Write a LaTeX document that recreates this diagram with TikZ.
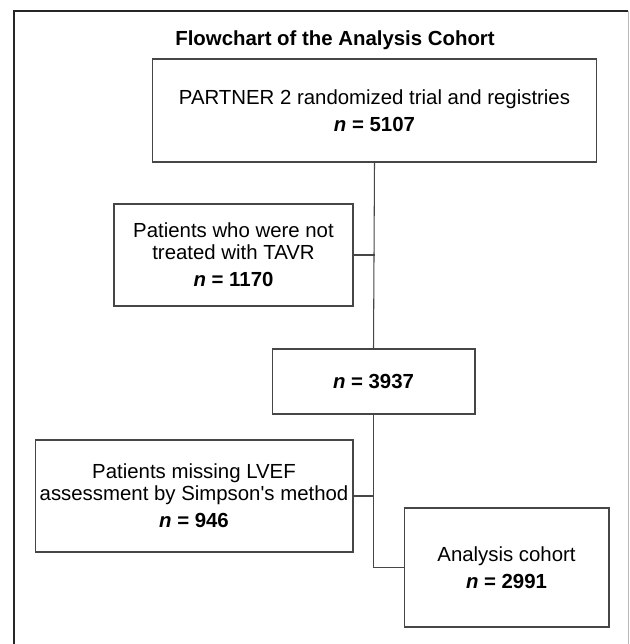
\documentclass[tikz,border=0pt]{standalone}
\usepackage{fontspec}
\setmainfont{Liberation Sans}
\usepackage{tikz}
\usetikzlibrary{positioning, calc}
\definecolor{boxline}{RGB}{70,70,70}
\definecolor{framegray}{RGB}{185,185,185}

\newcommand{\nval}[1]{\textbf{\textit{n} = #1}}

\begin{document}
\begin{tikzpicture}[
    x=0.02cm, y=-0.02cm,
    stage/.style={rectangle, draw=boxline, line width=0.6pt, align=center, inner sep=2pt, font=\fontsize{11.6}{12.5}\selectfont},
    link/.style={draw=boxline, line width=0.6pt},
    headline/.style={font=\fontsize{11.6}{12.5}\selectfont\bfseries},
]
\useasboundingbox (0,0) rectangle (629,644);
% outer frame (no bottom edge)
\draw[line width=1.2pt, black!85] (14,644) -- (14,11) -- (628,11);
\draw[line width=0.5pt, framegray] (628,11) -- (628,644);

\node[headline] (title) at (335,40) {Flowchart of the Analysis Cohort};

\node[stage, minimum width=8.9cm, minimum height=2.06cm] (trial) at (374.5,110.5)
    {PARTNER 2 randomized trial and registries\\[3pt] \nval{5107}};
\node[stage, minimum width=4.78cm, minimum height=2.04cm] (notavr) at (233.5,255)
    {Patients who were not\\ treated with TAVR\\[3pt] \nval{1170}};
\node[stage, minimum width=4.06cm, minimum height=1.3cm] (treated) at (373.5,381.5)
    {\nval{3937}};
\node[stage, minimum width=6.36cm, minimum height=2.24cm] (nolvef) at (194,496)
    {Patients missing LVEF\\ assessment by Simpson\textquotesingle s method\\[3pt] \nval{946}};
\node[stage, minimum width=4.1cm, minimum height=2.38cm] (cohort) at (506.5,567.5)
    {Analysis cohort\\[3pt] \nval{2991}};

\draw[link] (trial.south) -- (treated.north);
\draw[link] (notavr.east) -- (notavr.east -| trial.south);
\draw[link] (treated.south) |- (cohort.west);
\draw[link] (nolvef.east) -- (nolvef.east -| treated.south);
\end{tikzpicture}
\end{document}
